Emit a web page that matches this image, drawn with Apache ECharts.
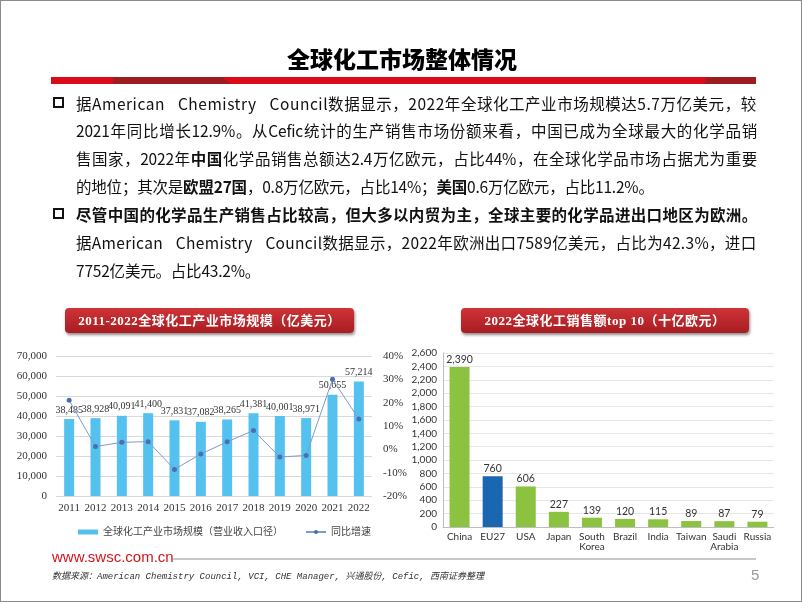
<!DOCTYPE html>
<html><head><meta charset="utf-8">
<script src="https://cdn.jsdelivr.net/npm/echarts@6/dist/echarts.min.js"></script>
<style>
html,body{margin:0;padding:0;background:#fff;}
#slide{position:relative;width:802px;height:602px;box-sizing:border-box;border:1px solid #8a8a8a;overflow:hidden;background:#fff;font-family:"Noto Sans CJK SC",sans-serif;}
#chart{position:absolute;left:0;top:0;width:802px;height:602px;}
.title{position:absolute;left:0;width:802px;top:40px;text-align:center;font-size:23px;font-weight:900;color:#000;}
.rbar{position:absolute;top:76px;height:7px;}
.line{position:absolute;left:75px;width:681px;font-size:15.5px;letter-spacing:-0.2px;color:#111;white-space:nowrap;line-height:20px;}
.j{text-align:justify;text-align-last:justify;white-space:normal;}
.ws{white-space:nowrap;}
.bul{position:absolute;left:52px;width:7px;height:7px;border:2px solid #111;}
.hdr{position:absolute;top:307px;height:25px;border-radius:4px;background:linear-gradient(#cf3337,#a81d22);box-shadow:1px 2px 3px rgba(0,0,0,0.45);color:#fff;font-family:"Liberation Serif","Noto Sans CJK SC",serif;font-weight:bold;font-size:13px;line-height:25px;text-align:center;letter-spacing:0.5px;}
.url{position:absolute;left:51px;top:547px;font-family:"Liberation Sans",Arial,sans-serif;font-size:15px;color:#d2151b;}
.src{position:absolute;left:51px;top:568px;font-family:"Liberation Mono","Noto Sans CJK SC",monospace;font-style:italic;font-size:9px;color:#333;}
.pg{position:absolute;left:750px;top:565px;font-family:"Liberation Sans",Arial,sans-serif;font-size:15px;color:#999;}
</style></head>
<body>
<div id="slide">
<div id="chart"></div>
<div class="title">全球化工市场整体情况</div>
<div class="rbar" style="left:50px;width:705px;background:#dc0a17;"></div>
<div class="rbar" style="left:112px;width:118px;background:#9c1c1f;clip-path:polygon(0 0,92% 0,100% 100%,0 100%);"></div>
<div class="rbar" style="left:703px;width:52px;background:#9c1c1f;clip-path:polygon(6% 0,100% 0,100% 100%,0 100%);"></div>

<div class="bul" style="top:96px;"></div>
<div class="line ws" style="top:92px;"><span>据American Chemistry Council数据显示，2022年全球化工产业市场规模达5.7万亿美元，较</span></div>
<div class="line j" style="top:119px;">2021年同比增长12.9%。从Cefic统计的生产销售市场份额来看，中国已成为全球最大的化学品销</div>
<div class="line j" style="top:147px;">售国家，2022年<b>中国</b>化学品销售总额达2.4万亿欧元，占比44%，在全球化学品市场占据尤为重要</div>
<div class="line" style="top:175px;">的地位；其次是<b>欧盟27国</b>，0.8万亿欧元，占比14%；<b>美国</b>0.6万亿欧元，占比11.2%。</div>
<div class="bul" style="top:207px;"></div>
<div class="line j" style="top:203px;font-weight:bold;">尽管中国的化学品生产销售占比较高，但大多以内贸为主，全球主要的化学品进出口地区为欧洲。</div>
<div class="line ws" style="top:231px;"><span>据American Chemistry Council数据显示，2022年欧洲出口7589亿美元，占比为42.3%，进口</span></div>
<div class="line" style="top:259px;">7752亿美元。占比43.2%。</div>

<div class="hdr" style="left:64px;width:289px;">2011-2022全球化工产业市场规模（亿美元）</div>
<div class="hdr" style="left:460px;width:288px;">2022全球化工销售额top 10（十亿欧元）</div>

<div class="url">www.swsc.com.cn</div>
<div style="position:absolute;left:172px;top:557px;width:583px;height:2px;background:#c8c8c8;"></div>
<div class="src">数据来源：American Chemistry Council, VCI, CHE Manager, 兴通股份, Cefic, 西南证券整理</div>
<div class="pg">5</div>
</div>
<script>
// Left chart data
var years = ['2011','2012','2013','2014','2015','2016','2017','2018','2019','2020','2021','2022'];
var marketSize = [38485,38928,40091,41400,37831,37082,38265,41381,40001,38971,50655,57214];
var growthPct = [21.0,1.2,3.0,3.3,-8.6,-2.0,3.2,8.1,-3.3,-2.6,30.0,13.0];
var leftTicksMin = 0, leftTicksMax = 70000, leftInterval = 10000;
var rightTicksMin = -20, rightTicksMax = 40, rightInterval = 10;
// Right chart data
var countries = ['China','EU27','USA','Japan','South\nKorea','Brazil','India','Taiwan','Saudi\nArabia','Russia'];
var sales = [2390,760,606,227,139,120,115,89,87,79];
var salesMax = 2600, salesInterval = 200;

// widen word spaces (capped) and spread the rest over letters so the line fills the text width
document.querySelectorAll('.line.ws').forEach(function(el){
  var sp = el.querySelector('span');
  var w = sp.getBoundingClientRect().width;
  var txt = sp.textContent;
  var n = (txt.match(/ /g) || []).length;
  var gap = 680 - w;
  if (gap <= 0) return;
  var perSpace = Math.min(gap / n, 9);
  sp.style.wordSpacing = perSpace + 'px';
  var rest = gap - perSpace * n;
  sp.style.letterSpacing = (-0.2 + rest / (txt.length - 1)) + 'px';
});

var serif = 'Liberation Serif';
var sans = 'Lato';
function fmt(v){return String(v).replace(/\B(?=(\d{3})+(?!\d))/g, ',');}

var chart = echarts.init(document.getElementById('chart'), null, {renderer:'canvas'});
chart.setOption({
  animation:false,
  backgroundColor:'transparent',
  legend:{
    left:72, top:521, itemGap:22, itemWidth:20, itemHeight:5,
    textStyle:{fontFamily:serif+',Noto Sans CJK SC', fontSize:10, color:'#444'},
    data:[{name:'全球化工产业市场规模（营业收入口径）', icon:'rect'},{name:'同比增速'}]
  },
  grid:[
    {left:55, right:431, top:355, bottom:107, containLabel:false},
    {left:442, right:29, top:352, bottom:76, containLabel:false}
  ],
  xAxis:[
    {type:'category', gridIndex:0, data:years,
     axisLine:{show:false}, axisTick:{show:false},
     axisLabel:{fontFamily:serif, fontSize:11, color:'#333', margin:7, interval:0}},
    {type:'category', gridIndex:1, data:countries,
     axisLine:{show:true, lineStyle:{color:'#bdbdbd'}}, axisTick:{show:false},
     axisLabel:{fontFamily:sans, fontSize:10, color:'#333', margin:5, lineHeight:10, interval:0}}
  ],
  yAxis:[
    {type:'value', gridIndex:0, min:leftTicksMin, max:leftTicksMax, interval:leftInterval,
     axisLine:{show:false}, axisTick:{show:false},
     axisLabel:{fontFamily:serif, fontSize:11, color:'#333', margin:9, formatter:function(v){return fmt(v);}},
     splitLine:{lineStyle:{color:'#d9d9d9'}}},
    {type:'value', gridIndex:0, min:rightTicksMin, max:rightTicksMax, interval:rightInterval, position:'right',
     axisLine:{show:false}, axisTick:{show:false},
     axisLabel:{fontFamily:serif, fontSize:11, color:'#333', margin:11, formatter:'{value}%'},
     splitLine:{show:false}},
    {type:'value', gridIndex:1, min:0, max:salesMax, interval:salesInterval,
     axisLine:{show:true, lineStyle:{color:'#bdbdbd'}}, axisTick:{show:false},
     axisLabel:{fontFamily:sans, fontSize:10, color:'#333', margin:6, formatter:function(v){return fmt(v);}},
     splitLine:{lineStyle:{color:'#e6e6e6'}}}
  ],
  series:[
    {name:'全球化工产业市场规模（营业收入口径）', type:'bar', xAxisIndex:0, yAxisIndex:0, data:marketSize,
     barWidth:10, itemStyle:{color:'#55c1ee'},
     label:{show:true, position:'top', distance:4, fontFamily:serif, fontSize:10, color:'#333', formatter:function(p){return fmt(p.value);}}},
    {name:'同比增速', type:'line', xAxisIndex:0, yAxisIndex:1, data:growthPct,
     symbol:'circle', symbolSize:5, lineStyle:{color:'#7d9bcb', width:1}, itemStyle:{color:'#4a70b3'}, z:5},
    {type:'bar', xAxisIndex:1, yAxisIndex:2, data:sales.map(function(v,i){return {value:v, itemStyle:{color: countries[i]==='EU27' ? '#1b66b1' : '#8bc240'}};}),
     barWidth:20,
     label:{show:true, position:'top', distance:2, fontFamily:sans, fontSize:10.5, color:'#333', formatter:function(p){return fmt(p.value);}}}
  ]
});
</script>
</body></html>
